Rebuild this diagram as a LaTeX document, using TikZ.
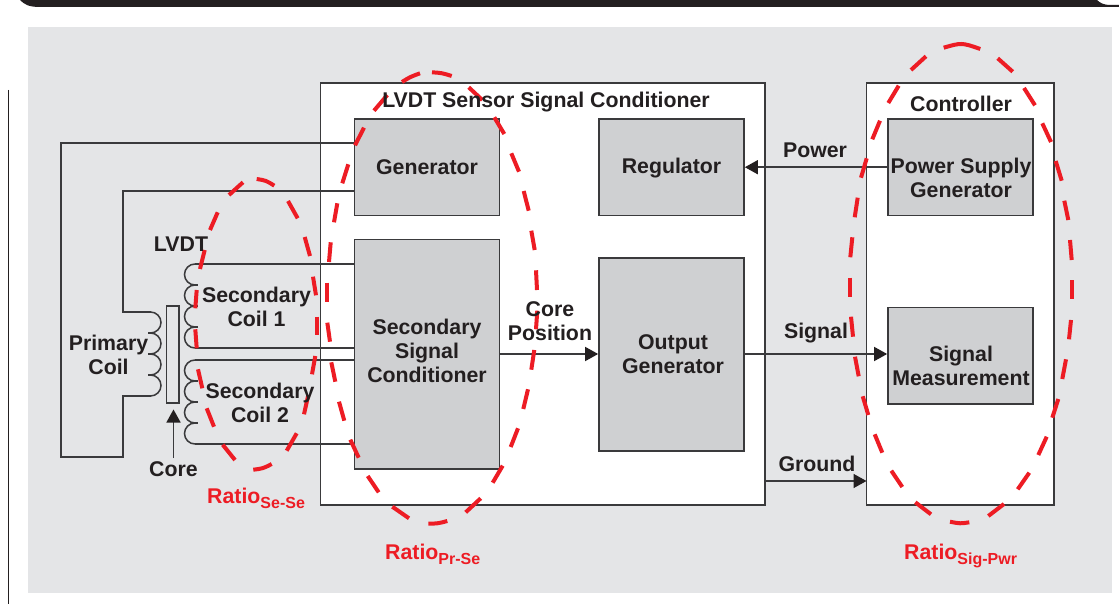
\documentclass[tikz,border=0pt]{standalone}
\usepackage{fontspec}
\setmainfont{Liberation Sans}
\usetikzlibrary{arrows.meta}
\definecolor{ink}{HTML}{231F20}
\definecolor{wire}{HTML}{3A3A3C}
\definecolor{bggray}{HTML}{E4E5E7}
\definecolor{boxgray}{HTML}{CFD0D2}
\definecolor{redline}{HTML}{ED1C24}
\tikzset{
  wireline/.style={draw=wire,line width=1.5pt,line join=miter},
  frame/.style={draw=wire,line width=1.7pt,fill=white,minimum width=0pt},
  block/.style={draw=wire,line width=1.7pt,fill=boxgray},
  lbl/.style={text=ink,font=\fontsize{21.3}{24}\selectfont\bfseries,align=center,inner sep=0pt},
  redlbl/.style={text=redline,font=\fontsize{21.3}{24}\selectfont\bfseries,inner sep=0pt,anchor=base west},
  flow/.style={wireline,-{Triangle[length=13pt,width=14pt,color=ink]}},
  ratio/.style={draw=redline,line width=4pt},
}
\newcommand{\rsub}[1]{\raisebox{-5.5pt}{\fontsize{16}{16}\selectfont\bfseries #1}}
\begin{document}
\begin{tikzpicture}[x=1pt,y=-1pt]
\useasboundingbox (0,0) rectangle (1119,604);
\fill[white] (0,0) rectangle (1119,604);
% header bar and margin rule
\fill[ink] (20,0) .. controls (24,4) and (28,7) .. (40,7) -- (1119,7) -- (1119,5) -- (1110,5) .. controls (1104,5) and (1100,3) .. (1097,0) -- cycle;
\draw[ink,line width=1.2pt] (8.5,90) -- (8.5,604);
\fill[bggray] (28,27) rectangle (1112,593);
% frames
\draw[frame] (320.5,83) rectangle (765,505);
\draw[frame] (866.5,83) rectangle (1054,505);
% blocks
\node[block,minimum width=145pt,minimum height=96.5pt,inner sep=0pt] (gen) at (427,167.2) {};
\node[block,minimum width=145pt,minimum height=96.5pt,inner sep=0pt] (reg) at (671.5,167.2) {};
\node[block,minimum width=145pt,minimum height=229.5pt,inner sep=0pt] (ssc) at (427,354.2) {};
\node[block,minimum width=145pt,minimum height=193pt,inner sep=0pt] (out) at (671.5,354.5) {};
\node[block,minimum width=145pt,minimum height=96.5pt,inner sep=0pt] (psg) at (960.5,167.2) {};
\node[block,minimum width=145pt,minimum height=96.5pt,inner sep=0pt] (sig) at (960.5,355.7) {};
% core
\node[draw=wire,line width=1.5pt,fill=bggray,minimum width=12.5pt,minimum height=97pt,inner sep=0pt] (core) at (172.8,354.5) {};
% coil coordinates
\coordinate (pTop) at (150.5,312);
\coordinate (pBot) at (150.5,396);
\coordinate (s1Top) at (195,264);
\coordinate (s1Bot) at (195,348);
\coordinate (s2Top) at (195,360);
\coordinate (s2Bot) at (195,444);
\coordinate (w1) at (61,143);
\coordinate (w2) at (61,457);
\coordinate (w3) at (123,457);
\coordinate (w4) at (123,396);
\coordinate (w5) at (123,312);
\coordinate (w6) at (123,191);
% primary wiring
\draw[wireline] (gen.west |- w1) -- (w1) -- (w2) -- (w3) -- (w4) -- (pBot);
\draw[wireline] (pTop) -- (w5) -- (w6) -- (gen.west |- w6);
% coils
\foreach \y in {312,333,354,375}{
  \draw[wireline] (150.5,\y) arc[start angle=90,end angle=-90,radius=10.5pt];
  \draw[wireline] (148,\y+21) -- (150.5,\y+21);
}
\foreach \y in {264,285,306,327,360,381,402,423}{
  \draw[wireline] (195,\y) arc[start angle=90,end angle=270,radius=10.5pt];
  \draw[wireline] (195,\y+21) -- (197.5,\y+21);
}
\draw[wireline] (s1Top) -- (ssc.west |- s1Top);
\draw[wireline] (s1Bot) -- (ssc.west |- s1Bot);
\draw[wireline] (s2Top) -- (ssc.west |- s2Top);
\draw[wireline] (s2Bot) -- (ssc.west |- s2Bot);
% arrows
\node[lbl] (coreLbl) at (173.5,469) {Core};
\coordinate (coreTip) at (173.5,409.5);
\coordinate (coreTail) at (173.5,458);
\draw[flow] (coreTail) -- (coreTip);
\draw[flow] (ssc.east |- 0,354) -- (out.west |- 0,354);
\draw[flow] (out.east |- 0,354) -- (sig.west |- 0,354);
\draw[flow] (psg.west) -- (reg.east);
\coordinate (gndA) at (765,481);
\coordinate (gndB) at (866.5,481);
\draw[flow] (gndA) -- (gndB);
% Ratio Se-Se dashed outline
\foreach \xa/\ya/\xb/\yb in {229/195/243/182.3,288/201/297.7/218.3,304.7/237/310/256,313/276.7/316/295.3,316.7/316.7/316.7/335,315.3/356/312/374.3,308.3/395/304/414.3,296.7/433.3/286.7/450.7,235/460/222.7/444.7,214/426.7/206.7/408.3,202.3/388.3/198/369.3,196.7/348.3/195.3/329.3,196.7/290/195.3/308.3,200/269/204.7/250,210/230/217.7/212.3}
  {\draw[ratio] (\xa,\ya) -- (\xb,\yb);}
\draw[ratio] (256.7,179) .. controls (266,180.5) .. (274.3,185.7);
\draw[ratio] (271.7,464) .. controls (263,468.5) .. (253.3,469.7);
% Ratio Pr-Se dashed outline
\foreach \xa/\ya/\xb/\yb in {468.7/87.3/482.3/100,494.3/117.3/504.3/134,511.3/153.3/519/171.7,523.7/191/528.7/210.7,531.3/230.7/534.7/250,536/270.3/537/290,537.3/310.7/536/329.3,534.3/350/531.3/369.7,528/389.3/523.3/409,518/428.3/510.7/447,502.7/465.7/492.7/482.7,480.7/498.3/465.7/512.3,409/518.3/392.3/506.7,378.7/492.3/367.7/476,358.7/457.7/350.3/439.7,344.3/420.7/339/401.7,335.3/381.7/331.3/362.3,330/341.7/327.3/322.7,327.3/282.7/327.3/302,329/262/330.7/242.3,334/222.3/337.3/203.3,342.3/183.3/348.3/164.3,355/145.3/364/127.7,374/110.7/387.3/95}
  {\draw[ratio] (\xa,\ya) -- (\xb,\yb);}
\draw[ratio] (402,82) .. controls (410,77) .. (420,73.3);
\draw[ratio] (432,72.3) .. controls (442,73) .. (451.7,76);
\draw[ratio] (447.3,521) .. controls (438,523.5) .. (428.3,523.7);
% Ratio Sig-Pwr dashed outline
\foreach \xa/\ya/\xb/\yb in {997.7/58.3/1012.7/71.7,1024/88/1035/105.3,1042.3/123.3/1051/142,1055.7/161/1061.7/180.7,1064.3/200.7/1068.3/220,1070/240/1071.7/260,1071.7/280/1071.7/299.3,1071/320/1069/339.3,1066/359.3/1062.3/379,1058.3/399/1052.3/417.7,1046.7/436.7/1038.3/455,1029.3/472.7/1017.7/489.3,1004/504/988.3/516,931/514.3/915.3/502.3,902.3/487/891.3/470.7,882.3/452.7/874.7/434.3,868.3/415/862.7/396.3,858.7/376.3/855/356.7,853/336.7/851/316.7,850/277.7/850/296.7,850.3/257.3/852.3/237.3,854.7/217.3/857.7/197.7,861/177.7/866.7/158.3,872.3/139.3/880/120.7,888.3/103/898.7/85.7,911/70/926/56.3}
  {\draw[ratio] (\xa,\ya) -- (\xb,\yb);}
\draw[ratio] (943.7,47.7) .. controls (961.6,42.55) .. (980.3,49);
\draw[ratio] (969.3,522.3) .. controls (960.1,523.7) .. (950,521.7);
% labels
\node[lbl] (t1) at (546,102) {LVDT Sensor Signal Conditioner};
\node[lbl] at (gen) {Generator};
\node[lbl] at (671.5,168) {Regulator};
\node[lbl] at (427,351) {Secondary\\Signal\\Conditioner};
\node[lbl] at (673,354) {Output\\Generator};
\node[lbl] at (550,321) {Core\\Position};
\node[lbl] at (815,150.5) {Power};
\node[lbl] at (816,333) {Signal};
\node[lbl] at (817,464) {Ground};
\node[lbl] at (961,104) {Controller};
\node[lbl] at (961,178) {Power Supply\\Generator};
\node[lbl] at (961,366) {Signal\\Measurement};
\node[lbl] at (181,244) {LVDT};
\node[lbl] at (256.5,307) {Secondary\\Coil 1};
\node[lbl] at (260,403) {Secondary\\Coil 2};
\node[lbl] at (108.5,355) {Primary\\Coil};
\node[redlbl] at (207,503) {Ratio\rsub{Se-Se}};
\node[redlbl] at (385,559) {Ratio\rsub{Pr-Se}};
\node[redlbl] at (904,559) {Ratio\rsub{Sig-Pwr}};
\end{tikzpicture}
\end{document}
